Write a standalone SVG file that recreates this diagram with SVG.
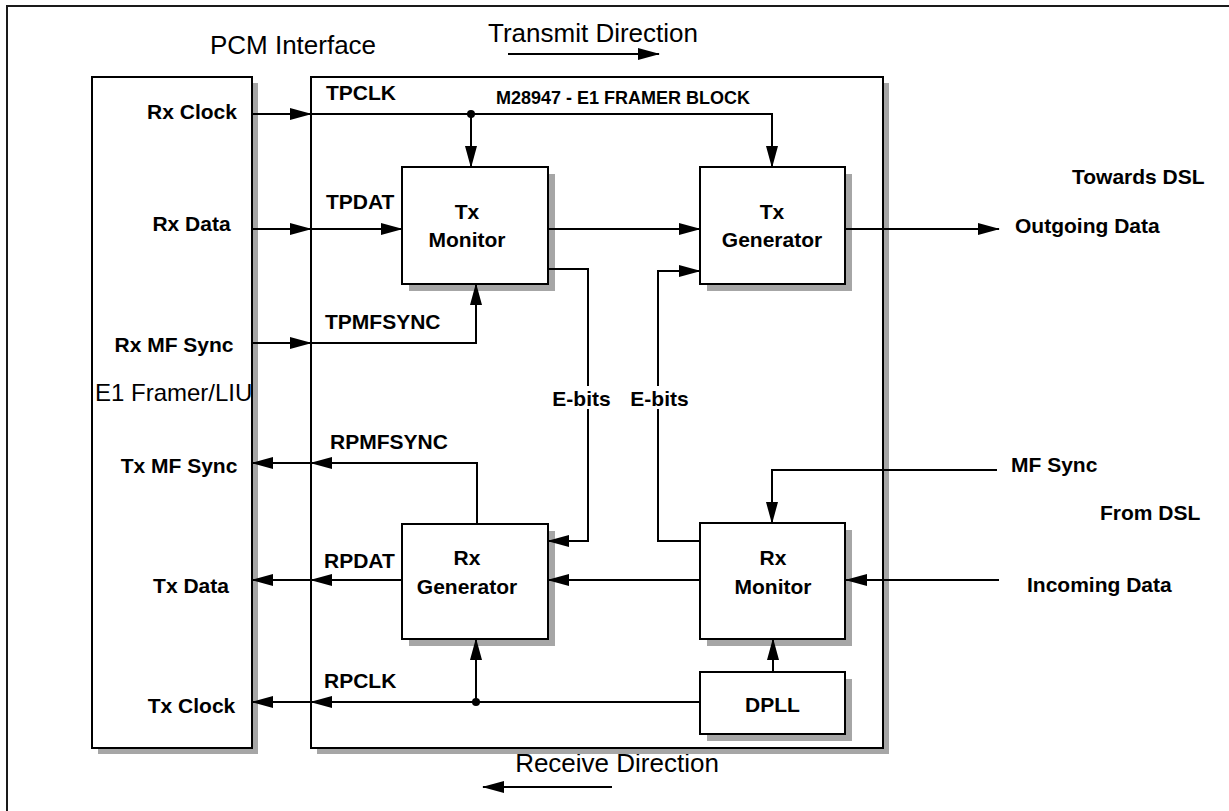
<svg xmlns="http://www.w3.org/2000/svg" width="1229" height="811" viewBox="0 0 1229 811">
  <style>
    .box { fill: #ffffff; stroke: #000000; stroke-width: 2; }
    .shadow { fill: #a6a6a6; stroke: none; }
    .wire { fill: none; stroke: #000000; stroke-width: 2; }
    .arr { marker-end: url(#head); }
    .lbl { font-family: "Liberation Sans", Arial, sans-serif; font-weight: bold; font-size: 21px; fill: #000000; }
    .title { font-family: "Liberation Sans", Arial, sans-serif; font-size: 26px; fill: #000000; }
    .mid { text-anchor: middle; }
  </style>
  <defs>
    <marker id="head" markerUnits="userSpaceOnUse" markerWidth="22" markerHeight="12" refX="21" refY="6" orient="auto">
      <path d="M0,0 L22,6 L0,12 z" fill="#000000"/>
    </marker>
  </defs>

  <rect width="1229" height="811" fill="#ffffff"/>

  <!-- outer page frame -->
  <rect x="7" y="6" width="1240" height="830" fill="none" stroke="#1a1a1a" stroke-width="2"/>

  <!-- direction captions -->
  <g id="captions">
    <text class="title mid" x="293" y="54">PCM Interface</text>
    <text class="title mid" x="593" y="42">Transmit Direction</text>
    <text class="title mid" x="617" y="772">Receive Direction</text>
    <text class="lbl" x="1072" y="184">Towards DSL</text>
    <text class="lbl" x="1100" y="520">From DSL</text>
  </g>

  <!-- E1 framer / line interface unit -->
  <g id="e1-framer-liu">
    <rect class="shadow" x="98" y="83" width="160" height="671"/>
    <rect class="box" x="92" y="77" width="160" height="671"/>
    <text class="lbl mid" x="192" y="119">Rx Clock</text>
    <text class="lbl mid" x="191.5" y="231">Rx Data</text>
    <text class="lbl mid" x="174" y="352">Rx MF Sync</text>
    <text class="title" x="95" y="401" style="font-size:24px">E1 Framer/LIU</text>
    <text class="lbl mid" x="179" y="473">Tx MF Sync</text>
    <text class="lbl mid" x="191" y="593">Tx Data</text>
    <text class="lbl mid" x="191.5" y="713">Tx Clock</text>
  </g>

  <!-- M28947 framer block -->
  <g id="framer-block">
    <rect class="shadow" x="317" y="83" width="572" height="671"/>
    <rect class="box" x="311" y="77" width="572" height="671"/>
    <text class="lbl mid" x="623" y="104" style="font-size:18px">M28947 - E1 FRAMER BLOCK</text>
    <text class="lbl" x="326" y="100">TPCLK</text>
    <text class="lbl" x="326" y="209">TPDAT</text>
    <text class="lbl" x="325" y="329">TPMFSYNC</text>
    <text class="lbl" x="330" y="449">RPMFSYNC</text>
    <text class="lbl" x="324" y="568">RPDAT</text>
    <text class="lbl" x="324" y="688">RPCLK</text>
  </g>

  <g id="tx-monitor">
    <rect class="shadow" x="409" y="174" width="146" height="117"/>
    <rect class="box" x="402" y="167" width="146" height="117"/>
    <text class="lbl mid" x="467" y="219">Tx</text>
    <text class="lbl mid" x="467" y="247">Monitor</text>
  </g>

  <g id="tx-generator">
    <rect class="shadow" x="707" y="174" width="145" height="117"/>
    <rect class="box" x="700" y="167" width="145" height="117"/>
    <text class="lbl mid" x="772" y="219">Tx</text>
    <text class="lbl mid" x="772" y="247">Generator</text>
  </g>

  <g id="rx-generator">
    <rect class="shadow" x="409" y="531" width="146" height="115"/>
    <rect class="box" x="402" y="524" width="146" height="115"/>
    <text class="lbl mid" x="467" y="565">Rx</text>
    <text class="lbl mid" x="467" y="594">Generator</text>
  </g>

  <g id="rx-monitor">
    <rect class="shadow" x="707" y="530" width="145" height="116"/>
    <rect class="box" x="700" y="523" width="145" height="116"/>
    <text class="lbl mid" x="773" y="565">Rx</text>
    <text class="lbl mid" x="773" y="594">Monitor</text>
  </g>

  <g id="dpll">
    <rect class="shadow" x="707" y="679" width="145" height="62"/>
    <rect class="box" x="700" y="672" width="145" height="62"/>
    <text class="lbl mid" x="772.5" y="712">DPLL</text>
  </g>

  <!-- signal connectors -->
  <g id="connectors">
    <!-- direction arrows -->
    <path class="wire arr" d="M508,54 H659"/>
    <path class="wire arr" d="M612,787 H483"/>

    <!-- transmit clock -->
    <path class="wire arr" d="M252,114 H311"/>
    <path class="wire arr" d="M311,114 H772 V167"/>
    <path class="wire arr" d="M471,114 V167"/>
    <circle cx="471" cy="114" r="4" fill="#000000"/>

    <!-- transmit data -->
    <path class="wire arr" d="M252,229 H311"/>
    <path class="wire arr" d="M311,229 H402"/>
    <path class="wire arr" d="M548,229 H700"/>
    <path class="wire arr" d="M845,229 H999"/>

    <!-- transmit multiframe sync -->
    <path class="wire arr" d="M252,343 H311"/>
    <path class="wire arr" d="M311,343 H476 V284"/>

    <!-- E-bits, Tx Monitor to Rx Generator -->
    <path class="wire" d="M548,269 H588 V386"/>
    <path class="wire arr" d="M588,409 V541 H548"/>
    <text class="lbl mid" x="581.5" y="406">E-bits</text>

    <!-- E-bits, Rx Monitor to Tx Generator -->
    <path class="wire" d="M700,541 H658 V409"/>
    <path class="wire arr" d="M658,386 V271 H700"/>
    <text class="lbl mid" x="659.5" y="406">E-bits</text>

    <!-- receive side inputs -->
    <path class="wire arr" d="M997,470 H772 V523"/>
    <text class="lbl" x="1011" y="472">MF Sync</text>
    <path class="wire arr" d="M999,580 H846"/>
    <text class="lbl" x="1027" y="592">Incoming Data</text>
    <text class="lbl" x="1015" y="233">Outgoing Data</text>

    <!-- receive data -->
    <path class="wire arr" d="M700,580 H548"/>
    <path class="wire arr" d="M402,580 H311"/>
    <path class="wire arr" d="M311,580 H252"/>

    <!-- receive multiframe sync -->
    <path class="wire arr" d="M477,524 V463 H311"/>
    <path class="wire arr" d="M311,463 H252"/>

    <!-- receive clock -->
    <path class="wire arr" d="M773,672 V639"/>
    <path class="wire arr" d="M700,702 H311"/>
    <path class="wire arr" d="M311,702 H252"/>
    <path class="wire arr" d="M476,702 V639"/>
    <circle cx="476" cy="702" r="4" fill="#000000"/>
  </g>
</svg>
